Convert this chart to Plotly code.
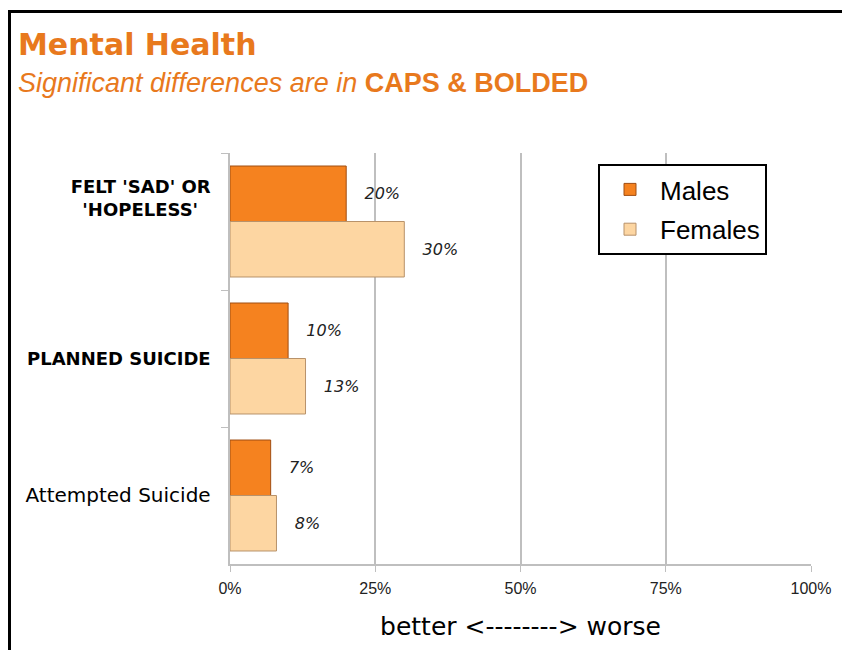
import plotly.graph_objects as go

# data
categories = ["<b>FELT 'SAD' OR<br>'HOPELESS'\u00a0\u00a0</b><br>\u00a0<br>\u00a0",
              "<b>PLANNED SUICIDE</b>",
              "<span style='font-size:20px'>Attempted Suicide</span>"]
males = [20, 10, 7]
females = [30, 13, 8]
x_ticks = [0, 25, 50, 75, 100]
x_tick_labels = [f"{v}%" for v in x_ticks]

orange = "#F5821F"
peach = "#FDD6A2"
title_col = "#E8791D"

fig = go.Figure()
for name, vals, col, edge in [("Males", males, orange, "#A04E12"),
                              ("Females", females, peach, "#B8926A")]:
    fig.add_trace(go.Bar(
        y=categories, x=vals, name=name, orientation="h",
        legendgroup=name,
        marker=dict(color=col, line=dict(color=edge, width=1)),
        text=[f"<i>{v}%</i>" for v in vals],
        texttemplate="\u00a0\u00a0\u00a0%{text}", textposition="outside",
        textfont=dict(family="DejaVu Sans", size=16, color="#222"),
        cliponaxis=False,
    ))

# page has an 8px body margin, so the figure is 842x642 starting at (8, 8)
W, H = 842, 642
L, R, T, B = 222, 39, 145, 86
pw, ph = W - L - R, H - T - B


def px(x):
    return (x - 8 - L) / pw


def py(y):
    return 1 - (y - 8 - T) / ph


fig.add_shape(type="rect", xref="paper", yref="paper",
              x0=px(9.5), x1=px(848.5), y0=py(700), y1=py(11.5),
              line=dict(color="black", width=3))

fig.add_annotation(xref="paper", yref="paper", x=px(16), y=py(45),
                   xanchor="left", yanchor="middle", showarrow=False,
                   text="<b>Mental Health</b>",
                   font=dict(family="DejaVu Sans", size=30, color=title_col))
fig.add_annotation(xref="paper", yref="paper", x=px(16), y=py(83),
                   xanchor="left", yanchor="middle", showarrow=False,
                   text="<i>Significant differences are in </i><b>CAPS &amp; BOLDED</b>",
                   font=dict(family="Liberation Sans", size=27, color=title_col))

fig.update_layout(
    width=W, height=H,
    margin=dict(l=L, r=R, t=T, b=B),
    paper_bgcolor="white", plot_bgcolor="white",
    barmode="group", bargap=0.19, bargroupgap=0,
    font=dict(family="DejaVu Sans", color="black"),
    legend=dict(x=px(598), y=py(164), xanchor="left", yanchor="top",
                bordercolor="black", borderwidth=2, bgcolor="white",
                font=dict(family="Liberation Sans", size=26, color="black"),
                traceorder="grouped", tracegroupgap=3, itemwidth=50),
    showlegend=True,
)
fig.update_xaxes(
    range=[0, 100], tickvals=x_ticks, ticktext=x_tick_labels,
    showgrid=True, gridcolor="#BFBFBF", gridwidth=1.5,
    showline=True, linecolor="#BFBFBF", linewidth=1.5,
    ticks="outside", ticklen=6, tickcolor="#BFBFBF",
    ticklabelstandoff=3,
    tickfont=dict(family="Liberation Sans", size=16, color="#222"),
    zeroline=False,
    title=dict(text="better <--------> worse",
               font=dict(family="DejaVu Sans", size=25, color="black"),
               standoff=22),
)
fig.update_yaxes(
    autorange="reversed",
    showline=True, linecolor="#BFBFBF", linewidth=1.5,
    ticks="outside", tickson="boundaries", ticklen=7, tickcolor="#BFBFBF",
    ticklabelstandoff=14,
    tickfont=dict(family="DejaVu Sans", size=18, color="black"),
)

fig.write_html("out.html")
